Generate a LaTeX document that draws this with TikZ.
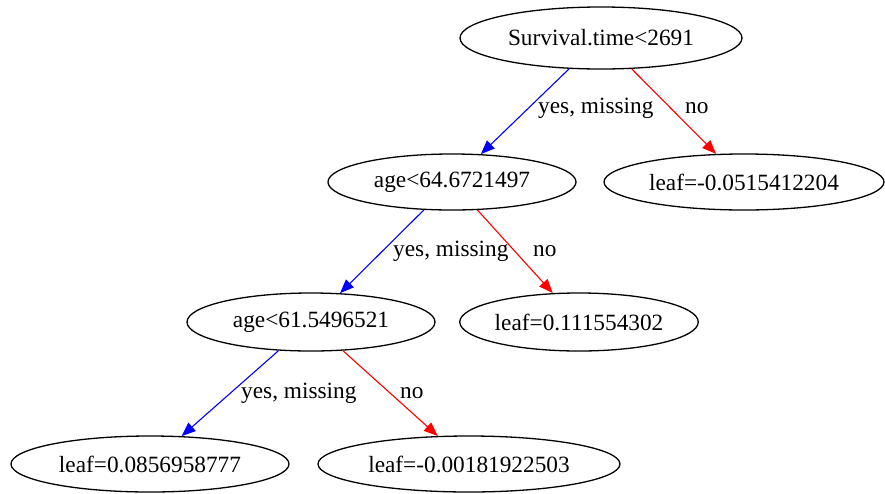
\documentclass[tikz,border=0pt]{standalone}
\usepackage{fontspec}
\setmainfont{Liberation Serif}
\usetikzlibrary{shapes.geometric,arrows.meta}
\begin{document}
\begin{tikzpicture}[x=1pt,y=-1pt,
  every node/.style={font=\fontsize{23.3}{28}\selectfont},
  split/.style={ellipse,draw,line width=1.3pt,inner sep=0pt},
  yesedge/.style={draw={rgb,255:red,0;green,0;blue,255},line width=1.1pt,
    -{Triangle[length=14pt,width=11pt]}},
  noedge/.style={draw={rgb,255:red,255;green,0;blue,0},line width=1.1pt,
    -{Triangle[length=14pt,width=11pt]}},
  lbl/.style={anchor=west,inner sep=0pt}]
\useasboundingbox (0,0) rectangle (885,493);
% tree nodes
\node[split,minimum width=282pt,minimum height=62pt] (root) at (601,38) {Survival.time<2691};
\node[split,minimum width=248pt,minimum height=56pt] (a64) at (452,182) {age<64.6721497};
\node[split,minimum width=280pt,minimum height=56pt] (l1) at (744,182) {leaf=-0.0515412204};
\node[split,minimum width=248pt,minimum height=58pt] (a61) at (311,322) {age<61.5496521};
\node[split,minimum width=234pt,minimum height=58pt] (l2) at (579,322) {leaf=0.111554302};
\node[split,minimum width=278pt,minimum height=56pt] (l3) at (150,464) {leaf=0.0856958777};
\node[split,minimum width=302pt,minimum height=56pt] (l4) at (469,464) {leaf=-0.00181922503};
% branches
\draw[yesedge] (root) -- (a64);
\draw[noedge] (root) -- (l1);
\draw[yesedge] (a64) -- (a61);
\draw[noedge] (a64) -- (l2);
\draw[yesedge] (a61) -- (l3);
\draw[noedge] (a61) -- (l4);
% branch labels
\node[lbl] (t1) at (538,108) {yes, missing};
\node[lbl] (t2) at (685,108) {no};
\node[lbl] (t3) at (393,251) {yes, missing};
\node[lbl] (t4) at (533,251) {no};
\node[lbl] (t5) at (241,393) {yes, missing};
\node[lbl] (t6) at (400,393) {no};
\end{tikzpicture}
\end{document}
